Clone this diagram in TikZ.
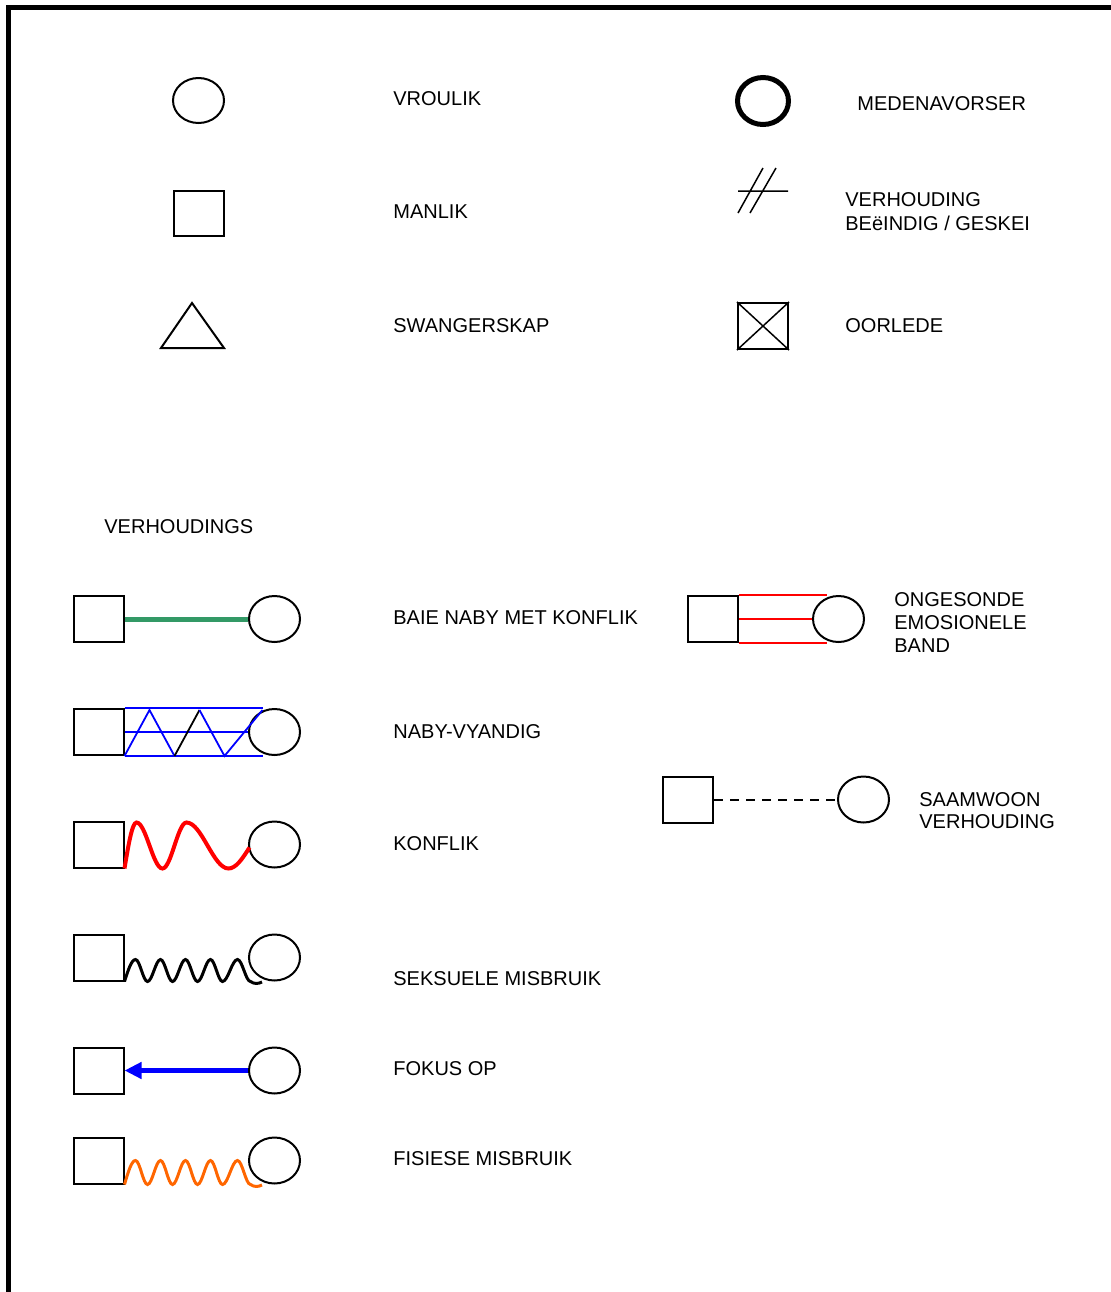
\documentclass[tikz,border=0pt]{standalone}
\usepackage{fontspec}
\setmainfont{Liberation Sans}
\usetikzlibrary{shapes.geometric,arrows.meta}
\definecolor{relgreen}{RGB}{51,153,102}
\definecolor{abuseorange}{RGB}{255,102,0}
\begin{document}
\begin{tikzpicture}[x=0.5pt,y=-0.5pt,
 lbl/.style={anchor=base west,inner sep=0,font=\fontsize{10}{12}\selectfont,align=left},
 fem/.style={draw,ellipse,line width=1pt,minimum width=25.5pt,minimum height=23pt,inner sep=0},
 mal/.style={draw,rectangle,line width=1pt,minimum width=25pt,minimum height=23pt,inner sep=0},
 thinline/.style={line width=0.75pt}]
\useasboundingbox (0,0) rectangle (1111,1292);
\draw[line width=2.5pt,line join=miter] (8.5,1292) -- (8.5,7) -- (1111,7);

% --- symbols ---
\node[fem,minimum height=22.5pt] (vrou) at (198.5,100.5) {};
\node[lbl] (tvrou) at (393,105) {VROULIK};
\node[mal,minimum height=22.5pt] (man) at (198.5,213.5) {};
\node[lbl] (tman) at (393,218) {MANLIK};
\draw[line width=1pt,line join=miter] (192,303) -- (224,348) -- (161,348) -- cycle;
\node[lbl] (tswang) at (393,332) {SWANGERSKAP};

\node[fem,line width=2.5pt,minimum width=25.5pt,minimum height=23.5pt] (medena) at (763,101) {};
\node[lbl] (tmedena) at (857,110) {MEDENAVORSER};
\draw[thinline] (738,213) -- (763,168) (750,213) -- (776,168) (738,191) -- (788,191);
\node[lbl] (tgeskei) at (845,230) {VERHOUDING\\BEëINDIG / GESKEI};
\node[mal] (oorl) at (763,326) {};
\draw[thinline] (oorl.north west) -- (oorl.south east) (oorl.north east) -- (oorl.south west);
\node[lbl] (toorl) at (845,332) {OORLEDE};

\node[lbl] (tverh) at (104,533) {VERHOUDINGS};

% --- row 1: baie naby met konflik ---
\node[mal] (sqa) at (98.5,619) {};
\node[fem] (cia) at (274.5,619) {};
\draw[relgreen,line width=2.5pt] (sqa.east) -- (cia.west);
\node[lbl] (ta) at (393,624) {BAIE NABY MET KONFLIK};

% --- row 2: naby-vyandig ---
\node[mal] (sqb) at (98.5,732) {};
\node[fem] (cib) at (274.5,732) {};
\draw[blue,line width=0.9pt] (sqb.north east) -- ++(138,0) (sqb.east) -- (cib.west) (sqb.south east) -- ++(138,0);
\draw[blue,line width=0.9pt] (sqb.south east) -- ++(25,-46) -- ++(25,46);
\draw[black,line width=0.9pt] (sqb.south east) ++(50,0) -- ++(25,-46);
\draw[blue,line width=0.9pt] (sqb.south east) ++(75,-46) -- ++(25,46) -- ++(38,-46);
\node[lbl] (tb) at (393,738) {NABY-VYANDIG};

% --- row 3: konflik ---
\node[mal] (sqc) at (98.5,844.5) {};
\node[fem] (cic) at (274.5,844.5) {};
\draw[red,line width=2pt] (sqc.south east) sin ++(12,-46) cos ++(13,23) sin ++(13,23)
  cos ++(12,-23) sin ++(12,-23) cos ++(21,23) sin ++(21,23) cos ++(21,-21);
\node[lbl] (tc) at (393,850) {KONFLIK};

% --- row 4: seksuele misbruik ---
\node[mal] (sqd) at (98.5,957.5) {};
\node[fem] (cid) at (274.5,957.5) {};
\draw[line width=1.5pt] (sqd.south east) sin ++(11,-22)
  cos ++(6,11) sin ++(6,11) cos ++(6.5,-11) sin ++(6.5,-11)
  cos ++(6,11) sin ++(6,11) cos ++(6.5,-11) sin ++(6.5,-11)
  cos ++(6,11) sin ++(6,11) cos ++(6.5,-11) sin ++(6.5,-11)
  cos ++(6,11) sin ++(6,11) cos ++(7.5,-11) sin ++(7.5,-11)
  cos ++(6.5,11) sin ++(6.5,11) .. controls (254,984) and (258,984) .. (262,982);
\node[lbl] (td) at (393,985) {SEKSUELE MISBRUIK};

% --- row 5: fokus op ---
\node[mal] (sqe) at (98.5,1070.5) {};
\node[fem] (cie) at (274.5,1070.5) {};
\draw[blue,line width=2.5pt,-{Triangle[length=8.5pt,width=8pt]}] (cie.west) -- (sqe.east);
\node[lbl] (te) at (393,1075) {FOKUS OP};

% --- row 6: fisiese misbruik ---
\node[mal] (sqf) at (98.5,1160.5) {};
\node[fem] (cif) at (274.5,1160.5) {};
\draw[abuseorange,line width=1.5pt] (sqf.south east) sin ++(11,-24)
  cos ++(6,12) sin ++(6,12) cos ++(6.5,-12) sin ++(6.5,-12)
  cos ++(6,12) sin ++(6,12) cos ++(6.5,-12) sin ++(6.5,-12)
  cos ++(6,12) sin ++(6,12) cos ++(6.5,-12) sin ++(6.5,-12)
  cos ++(6,12) sin ++(6,12) cos ++(7.5,-12) sin ++(7.5,-12)
  cos ++(6.5,12) sin ++(6.5,12) .. controls (254,1187) and (258,1187) .. (262,1185);
\node[lbl] (tf) at (393,1165) {FISIESE MISBRUIK};

% --- ongesonde emosionele band ---
\node[mal] (sqg) at (713,619) {};
\node[fem] (cig) at (838.5,619) {};
\draw[red,line width=1.4pt] (sqg.north east) -- ++(88,0) (sqg.east) -- (cig.west) (sqg.south east) -- ++(88,0);
\node[lbl,font=\fontsize{10}{11.5}\selectfont] (tg) at (894,652.5) {ONGESONDE\\EMOSIONELE\\BAND};

% --- saamwoon verhouding ---
\node[mal] (sqh) at (688,799.5) {};
\node[fem] (cih) at (863.5,799.5) {};
\draw[line width=1pt,dash pattern=on 4.5pt off 3.5pt] (sqh.east) -- (cih.west);
\node[lbl,font=\fontsize{10}{11}\selectfont] (th) at (919,828) {SAAMWOON\\VERHOUDING};
\end{tikzpicture}
\end{document}
